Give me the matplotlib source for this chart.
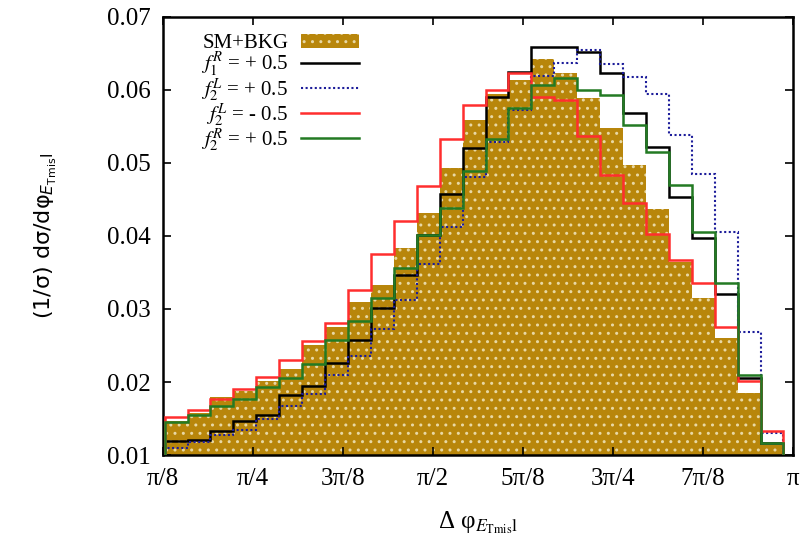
import numpy as np
import matplotlib
matplotlib.use("Agg")
import matplotlib.pyplot as plt
import matplotlib.patches as mpatches
from matplotlib.lines import Line2D

# Histogram binning in Delta phi (rad): 27 bins of width 0.1 from 0.4 to 3.1
bin_edges = np.linspace(0.4, 3.1, 28)

# Normalised distributions (1/sigma) dsigma/dphi, one value per bin
sm_bkg = [0.0146, 0.0158, 0.0179, 0.0187, 0.0201, 0.0218, 0.0251, 0.0276, 0.0310,
          0.0333, 0.0383, 0.0431, 0.0493, 0.0559, 0.0595, 0.0614, 0.0643, 0.0623,
          0.0589, 0.0548, 0.0497, 0.0437, 0.0365, 0.0315, 0.0260, 0.0185, 0.0114]
f1R_p05 = [0.0119, 0.0121, 0.0133, 0.0146, 0.0155, 0.0182, 0.0195, 0.0226, 0.0258,
           0.0301, 0.0346, 0.0402, 0.0458, 0.0520, 0.0590, 0.0625, 0.0659, 0.0659,
           0.0652, 0.0623, 0.0568, 0.0522, 0.0453, 0.0397, 0.0320, 0.0206, 0.0117]
f2L_p05 = [0.0110, 0.0118, 0.0128, 0.0134, 0.0150, 0.0167, 0.0184, 0.0210, 0.0235,
           0.0272, 0.0313, 0.0361, 0.0412, 0.0481, 0.0529, 0.0573, 0.0619, 0.0637,
           0.0655, 0.0636, 0.0618, 0.0595, 0.0538, 0.0485, 0.0406, 0.0269, 0.0130]
f2L_m05 = [0.0152, 0.0162, 0.0177, 0.0190, 0.0207, 0.0230, 0.0256, 0.0281, 0.0326,
           0.0375, 0.0420, 0.0469, 0.0533, 0.0579, 0.0600, 0.0623, 0.0591, 0.0586,
           0.0537, 0.0484, 0.0445, 0.0403, 0.0367, 0.0335, 0.0276, 0.0201, 0.0133]
f2R_p05 = [0.0145, 0.0155, 0.0167, 0.0177, 0.0193, 0.0206, 0.0225, 0.0258, 0.0283,
           0.0315, 0.0356, 0.0401, 0.0439, 0.0489, 0.0533, 0.0576, 0.0607, 0.0617,
           0.0600, 0.0593, 0.0552, 0.0515, 0.0470, 0.0406, 0.0336, 0.0210, 0.0117]

x_tick_vals = [np.pi / 8, np.pi / 4, 3 * np.pi / 8, np.pi / 2,
               5 * np.pi / 8, 3 * np.pi / 4, 7 * np.pi / 8, np.pi]
x_tick_labels = ["π/8", "π/4", "3π/8", "π/2", "5π/8", "3π/4", "7π/8", "π"]
y_tick_vals = [0.01, 0.02, 0.03, 0.04, 0.05, 0.06, 0.07]

legend_labels = ["SM+BKG", r"$f_1^R$ = + 0.5", r"$f_2^L$ = + 0.5",
                 r"$f_2^L$ = - 0.5", r"$f_2^R$ = + 0.5"]

plt.rcParams["font.family"] = ["Liberation Serif", "DejaVu Serif"]
plt.rcParams["mathtext.fontset"] = "stix"
plt.rcParams["hatch.linewidth"] = 1.0

gold = "#B8860B"
dots = "#E8D8A4"
c_black, c_blue, c_red, c_green = "black", "#1C1C9A", "#FF2E2E", "#237A23"
blue_ls = (0, (1, 1.2))
lw = 1.8

fig = plt.figure(figsize=(8.04, 5.48), dpi=100)
ax = fig.add_axes([0.2027, 0.1697, 0.7836, 0.7993])

# filled SM+BKG histogram with a light dotted texture
ax.stairs(sm_bkg, bin_edges, baseline=0.0, fill=True, color=gold,
          linewidth=0, zorder=1)
ax.stairs(sm_bkg, bin_edges, baseline=0.0, fill=True, facecolor="none",
          edgecolor=dots, hatch="..", linewidth=0, zorder=1.1)

ax.stairs(f1R_p05, bin_edges, baseline=0.0, color=c_black, linewidth=lw, zorder=2)
ax.stairs(f2L_p05, bin_edges, baseline=0.0, color=c_blue, linewidth=1.5,
          linestyle=blue_ls, zorder=3)
ax.stairs(f2L_m05, bin_edges, baseline=0.0, color=c_red, linewidth=lw, zorder=4)
ax.stairs(f2R_p05, bin_edges, baseline=0.0, color=c_green, linewidth=lw, zorder=5)

ax.set_xlim(np.pi / 8, np.pi)
ax.set_ylim(0.01, 0.07)
ax.set_xticks(x_tick_vals)
ax.set_xticklabels(x_tick_labels)
ax.set_yticks(y_tick_vals)
ax.set_yticklabels([f"{v:.2f}" for v in y_tick_vals])
ax.tick_params(axis="both", which="major", direction="in", length=6, width=1.2,
               top=True, right=True, labelsize=18, pad=9)

for sp in ax.spines.values():
    sp.set_linewidth(1.8)

ax.set_ylabel(r"(1/σ) dσ/dφ$_{E_{\mathrm{Tmis}}\mathrm{l}}$",
              fontsize=16, family=["DejaVu Sans"], math_fontfamily="dejavusans",
              labelpad=34)
ax.set_xlabel(r"Δ φ$_{E_{\mathrm{Tmis}}\mathrm{l}}$", fontsize=18, labelpad=14)

# legend: text on the left, sample on the right
handles = [mpatches.Patch(facecolor=gold, edgecolor=dots, hatch="..", linewidth=0),
           Line2D([], [], color=c_black, linewidth=lw),
           Line2D([], [], color=c_blue, linewidth=1.5, linestyle=blue_ls),
           Line2D([], [], color=c_red, linewidth=lw),
           Line2D([], [], color=c_green, linewidth=lw)]
leg = ax.legend(handles, legend_labels, loc="upper left",
                bbox_to_anchor=(0.04, 0.99), frameon=False, markerfirst=False,
                fontsize=15, handlelength=2.8, handleheight=0.7,
                labelspacing=-0.12, handletextpad=0.6, borderaxespad=0.2)
for t in leg.get_texts():
    t.set_ha("right")
leg._legend_box.align = "right"

fig.savefig("out.png", dpi=100)
